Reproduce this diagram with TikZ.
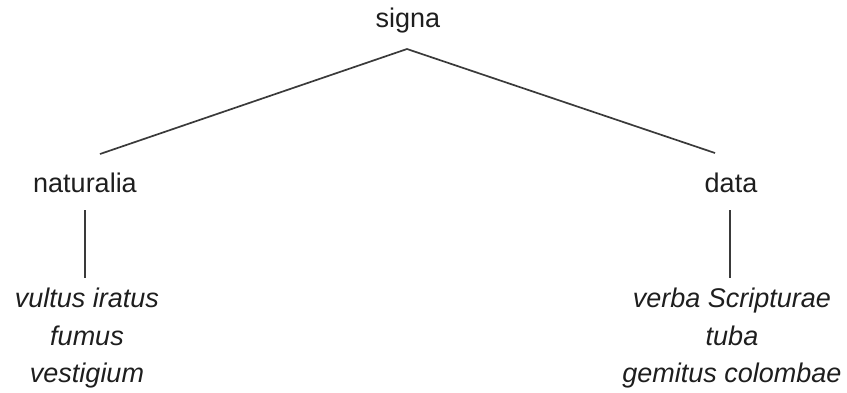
\documentclass[tikz,border=0pt]{standalone}
\usepackage{fontspec}
\setmainfont{Liberation Sans}
\definecolor{txt}{HTML}{1E1E1E}
\definecolor{ln}{HTML}{3A3A3A}
\tikzset{
  lbl/.style={anchor=base, inner sep=0pt, text=txt, font=\fontsize{27}{32}\selectfont},
  itl/.style={lbl, font=\fontsize{27}{32}\selectfont\itshape},
  edge/.style={draw=ln, line width=1.7pt}
}
\begin{document}
\begin{tikzpicture}[x=1pt,y=-1pt]
\useasboundingbox (0,0) rectangle (847,392);
\node[lbl] (signa) at (408,27) {signa};
\node[lbl] (nat) at (85,192) {naturalia};
\node[lbl] (data) at (731,192) {data};
\node[itl] (n1) at (87,307) {vultus iratus};
\node[itl] (n2) at (87,345) {fumus};
\node[itl] (n3) at (87,382) {vestigium};
\node[itl] (d1) at (732,307) {verba Scripturae};
\node[itl] (d2) at (732,345) {tuba};
\node[itl] (d3) at (732,382) {gemitus colombae};
\coordinate (apex) at (407,49);
\coordinate (natTop) at (100,154);
\coordinate (dataTop) at (715,153);
\coordinate (natA) at (85,210);
\coordinate (natB) at (85,278);
\coordinate (dataA) at (730,210);
\coordinate (dataB) at (730,278);
\draw[edge] (natTop) -- (apex) -- (dataTop);
\draw[edge] (natA) -- (natB);
\draw[edge] (dataA) -- (dataB);
\end{tikzpicture}
\end{document}
